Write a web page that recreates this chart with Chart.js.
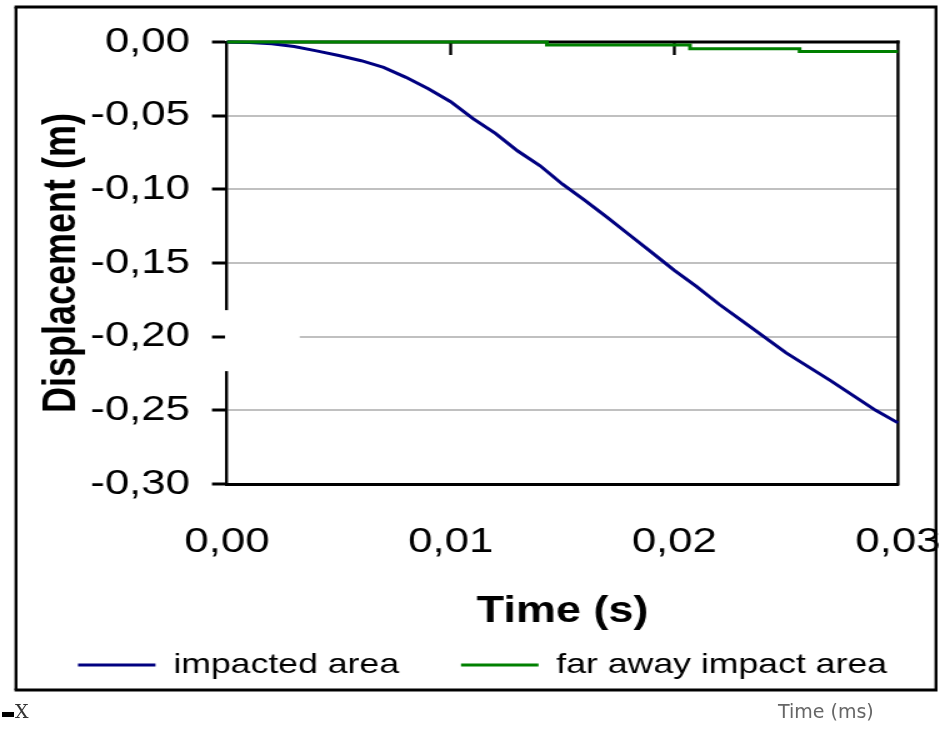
<!DOCTYPE html>
<html>
<head>
<meta charset="utf-8">
<title>Displacement vs time</title>
<script src="https://cdn.jsdelivr.net/npm/chart.js@4.4.1/dist/chart.umd.min.js"></script>
<style>
  html, body { margin: 0; padding: 0; background: #fff; }
  body { width: 941px; height: 737px; overflow: hidden; position: relative; }
  #wrap { position: absolute; left: 0; top: 0; width: 770px; height: 737px; transform: scaleX(1.25); transform-origin: 0 0; }
  .note { position: absolute; font-family: "DejaVu Sans", sans-serif; color: #666; white-space: nowrap; }
</style>
</head>
<body>
<div id="wrap"><canvas id="dispChart" width="770" height="737"></canvas></div>
<div class="note" style="left:778px; top:700px; font-size:19px;">Time (ms)</div>
<div style="position:absolute; left:2px; top:712px; width:12px; height:5px; background:#000;"></div>
<div class="note" style="left:15px; top:700px; font-size:19px; font-family:'DejaVu Serif', serif; color:#333;">X</div>
<script>
// time in seconds
const timeS = [0, 0.001, 0.002, 0.003, 0.004, 0.005, 0.006, 0.007, 0.008, 0.009, 0.010,
  0.011, 0.012, 0.013, 0.014, 0.015, 0.016, 0.017, 0.018, 0.019, 0.020,
  0.021, 0.022, 0.023, 0.024, 0.025, 0.026, 0.027, 0.028, 0.029, 0.030];
// displacement of the impacted area (m)
const impacted = [0, -0.0003, -0.0012, -0.0030, -0.0060, -0.0092, -0.0127, -0.0172, -0.0240, -0.0318, -0.0405,
  -0.0520, -0.0620, -0.0740, -0.0840, -0.0965, -0.1075, -0.1190, -0.1310, -0.1430, -0.1550,
  -0.1660, -0.1780, -0.1890, -0.2000, -0.2110, -0.2205, -0.2300, -0.2400, -0.2500, -0.2585];
// far away point, stepped (value holds until next time)
const farTime = [0, 0.0143, 0.0207, 0.0256, 0.030];
const farAway = [0, -0.0020, -0.0045, -0.0064, -0.0064];

const xTickValues = [0, 0.01, 0.02, 0.03];
const yTickValues = [0, -0.05, -0.10, -0.15, -0.20, -0.25, -0.30];
const innerTicks = [0.01, 0.02];   // small marks under the top edge
const patchX = [0, 0.00325];       // white patch over the axis
const patchY = [-0.182, -0.2234];

const fmt = v => (Math.abs(v) < 1e-9 ? 0 : v).toFixed(2).replace('.', ',');

Chart.defaults.font.family = "'Liberation Sans', Arial, sans-serif";
Chart.defaults.color = '#000';

const frame = {
  id: 'frame',
  beforeDatasetsDraw(chart) {
    const { ctx, chartArea: a, scales: { x } } = chart;
    ctx.save();
    ctx.strokeStyle = '#000';
    ctx.lineWidth = 3;
    ctx.beginPath();
    ctx.moveTo(a.left, a.top);
    ctx.lineTo(a.right + 1.2, a.top);
    ctx.stroke();
    ctx.lineWidth = 2.4;
    ctx.beginPath();
    ctx.moveTo(a.right, a.top - 1.5);
    ctx.lineTo(a.right, a.bottom + 1.5);
    ctx.stroke();
    innerTicks.forEach(v => {
      const px = x.getPixelForValue(v);
      ctx.beginPath();
      ctx.moveTo(px, a.top);
      ctx.lineTo(px, a.top + 13);
      ctx.stroke();
    });
    ctx.restore();
  },
  afterDraw(chart) {
    const { ctx, scales: { x, y } } = chart;
    ctx.save();
    // white patch
    const x0 = x.getPixelForValue(patchX[0]) - 1.6;
    const x1 = x.getPixelForValue(patchX[1]);
    const y0 = y.getPixelForValue(patchY[0]);
    const y1 = y.getPixelForValue(patchY[1]);
    ctx.fillStyle = '#fff';
    ctx.fillRect(x0, y0, x1 - x0, y1 - y0);
    // outer border
    const L = 12.8, T = 7, R = 748.8, B = 690;
    ctx.strokeStyle = '#000';
    ctx.lineWidth = 3;
    ctx.beginPath();
    ctx.moveTo(L - 1.2, T); ctx.lineTo(R + 1.2, T);
    ctx.moveTo(L - 1.2, B); ctx.lineTo(R + 1.2, B);
    ctx.stroke();
    ctx.lineWidth = 2.4;
    ctx.beginPath();
    ctx.moveTo(L, T); ctx.lineTo(L, B);
    ctx.moveTo(R, T); ctx.lineTo(R, B);
    ctx.stroke();
    ctx.restore();
  }
};

new Chart(document.getElementById('dispChart'), {
  type: 'line',
  data: {
    datasets: [{
      label: 'impacted area',
      data: timeS.map((t, i) => ({ x: t, y: impacted[i] })),
      borderColor: '#000080',
      backgroundColor: '#000080',
      borderWidth: 3,
      pointRadius: 0,
      clip: 4,
      order: 1
    }, {
      label: 'far away impact area',
      data: farTime.map((t, i) => ({ x: t, y: farAway[i] })),
      borderColor: '#008000',
      backgroundColor: '#008000',
      borderWidth: 3,
      pointRadius: 0,
      stepped: 'before',
      clip: 4,
      order: 0
    }]
  },
  options: {
    responsive: false,
    animation: false,
    layout: { padding: { left: 12.85, top: 42, right: 0, bottom: 55.8 } },
    plugins: {
      tooltip: { enabled: false },
      legend: {
        position: 'bottom',
        align: 'start',
        maxHeight: 80,
        labels: {
          usePointStyle: true,
          pointStyle: 'line',
          pointStyleWidth: 62,
          padding: 49.55,
          font: { size: 28.5 },
          color: '#000',
          sort: (a, b) => a.datasetIndex - b.datasetIndex
        }
      }
    },
    scales: {
      x: {
        type: 'linear',
        min: 0,
        max: 0.03,
        afterBuildTicks: s => { s.ticks = xTickValues.map(v => ({ value: v })); },
        afterFit: s => { s.height = 117.2; },
        ticks: { padding: 0, font: { size: 35 }, maxRotation: 0, autoSkip: false, callback: v => fmt(v) },
        grid: { drawOnChartArea: false, drawTicks: true, tickLength: 37, tickColor: 'rgba(0,0,0,0)', tickWidth: 0 },
        border: { color: '#000', width: 3 },
        title: { display: true, text: 'Time (s)', font: { size: 36, weight: 'bold' }, padding: { top: 0, bottom: -32.4 } }
      },
      y: {
        min: -0.3,
        max: 0,
        afterBuildTicks: s => { s.ticks = yTickValues.map(v => ({ value: v })); },
        afterFit: s => { s.width = 168.75; },
        ticks: { padding: 17.6, font: { size: 35 }, callback: v => fmt(v) },
        grid: { color: '#c0c0c0', lineWidth: 2, tickColor: '#000', tickWidth: 3, tickLength: 12 },
        border: { color: '#000', width: 2.4 },
        title: { display: true, text: 'Displacement (m)', font: { size: 36, weight: 'bold' }, padding: { top: 15.15, bottom: 0 } }
      },
      y2: {
        position: 'right',
        afterFit: s => { s.width = 51.6; },
        grid: { display: false },
        ticks: { display: false },
        border: { display: false }
      }
    }
  },
  plugins: [frame]
});
</script>
</body>
</html>
